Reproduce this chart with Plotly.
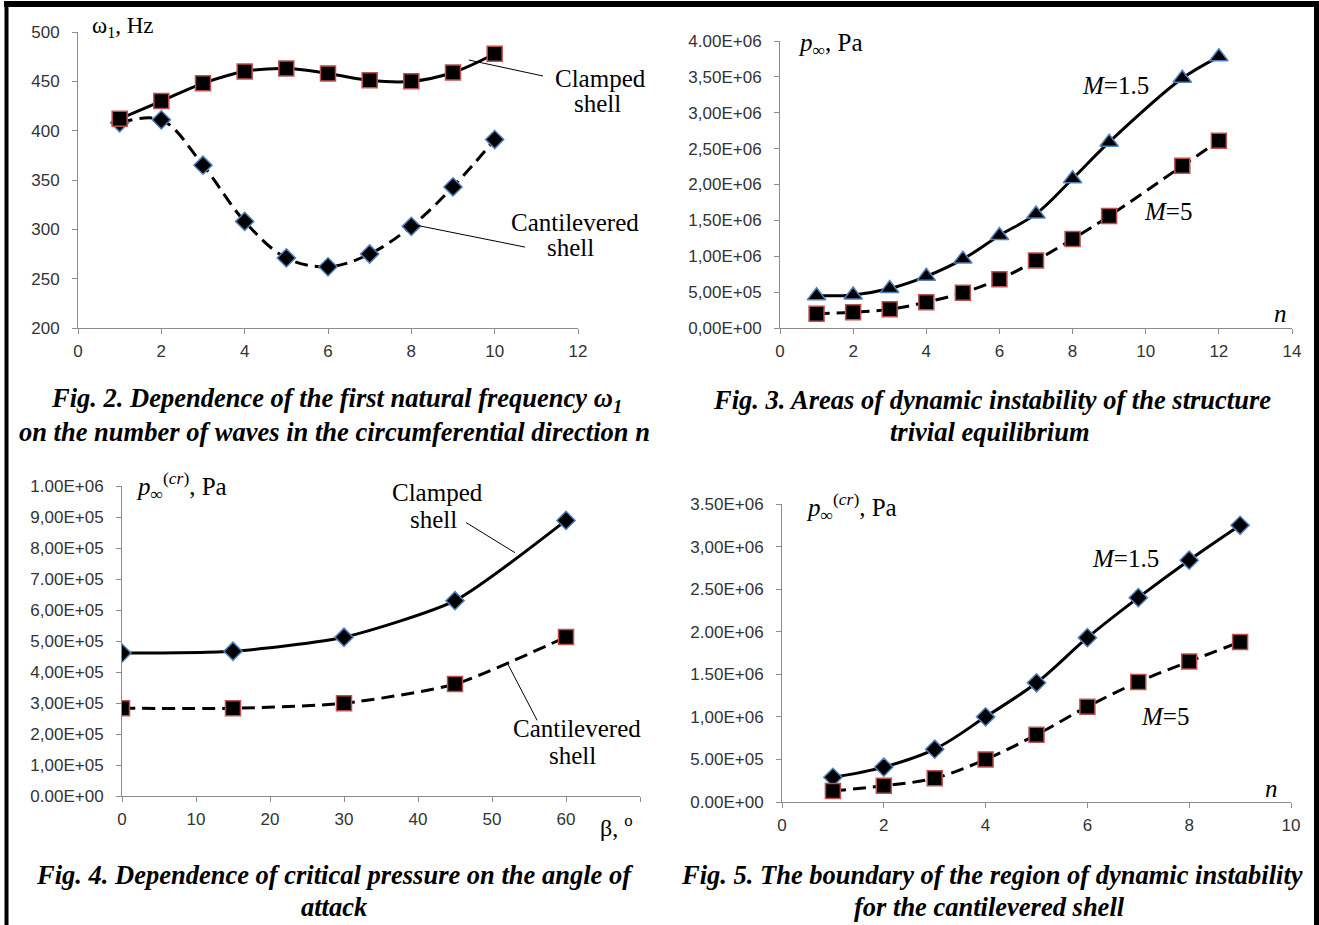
import plotly.graph_objects as go

W, H = 1319, 925

# ---------------- data ----------------
# Fig. 2
n_fig2 = [1, 2, 3, 4, 5, 6, 7, 8, 9, 10]
freq_clamped = [412, 430, 448, 460, 463, 458, 451, 450, 459, 478]
freq_cantilevered = [408, 411, 365, 308, 271, 262, 275, 303, 343, 391]

# Fig. 3
n_fig3 = [1, 2, 3, 4, 5, 6, 7, 8, 9, 11, 12]
p_m15_fig3 = [4.5e5, 4.6e5, 5.5e5, 7.2e5, 9.6e5, 1.29e6, 1.59e6, 2.08e6, 2.59e6, 3.48e6, 3.78e6]
p_m5_fig3 = [2.0e5, 2.2e5, 2.6e5, 3.6e5, 4.9e5, 6.8e5, 9.4e5, 1.24e6, 1.56e6, 2.26e6, 2.61e6]

# Fig. 4
beta_fig4 = [0, 15, 30, 45, 60]
p_clamped_fig4 = [4.61e5, 4.67e5, 5.12e5, 6.3e5, 8.89e5]
p_cantilevered_fig4 = [2.83e5, 2.83e5, 2.99e5, 3.61e5, 5.13e5]

# Fig. 5
n_fig5 = [1, 2, 3, 4, 5, 6, 7, 8, 9]
p_m15_fig5 = [2.9e5, 4.1e5, 6.2e5, 1.0e6, 1.4e6, 1.93e6, 2.4e6, 2.84e6, 3.25e6]
p_m5_fig5 = [1.3e5, 1.9e5, 2.8e5, 5.0e5, 7.9e5, 1.12e6, 1.41e6, 1.65e6, 1.88e6]

# tick labels
yt_fig2 = [200, 250, 300, 350, 400, 450, 500]
xt_fig2 = [0, 2, 4, 6, 8, 10, 12]
yt_fig3_vals = [0, 5e5, 1e6, 1.5e6, 2e6, 2.5e6, 3e6, 3.5e6, 4e6]
yt_fig3_text = ["0,00E+00", "5,00E+05", "1,00E+06", "1,50E+06", "2,00E+06",
                "2,50E+06", "3,00E+06", "3,50E+06", "4.00E+06"]
xt_fig3 = [0, 2, 4, 6, 8, 10, 12, 14]
yt_fig4_vals = [0, 1e5, 2e5, 3e5, 4e5, 5e5, 6e5, 7e5, 8e5, 9e5, 1e6]
yt_fig4_text = ["0.00E+00", "1,00E+05", "2,00E+05", "3,00E+05", "4,00E+05", "5,00E+05",
                "6,00E+05", "7.00E+05", "8,00E+05", "9,00E+05", "1.00E+06"]
xt_fig4_vals = [0, 10, 20, 30, 40, 50, 60, 70]
xt_fig4_text = ["0", "10", "20", "30", "40", "50", "60", ""]
yt_fig5_vals = [0, 5e5, 1e6, 1.5e6, 2e6, 2.5e6, 3e6, 3.5e6]
yt_fig5_text = ["0.00E+00", "5.00E+05", "1,00E+06", "1.50E+06", "2.00E+06",
                "2.50E+06", "3,00E+06", "3.50E+06"]
xt_fig5 = [0, 2, 4, 6, 8, 10]

# ---------------- helpers ----------------
def px(x):
    return x / W


def py(y):
    return 1 - y / H


BLUE = "#4f81bd"
RED = "#c0504d"
DASH = "13px,7px"
SERIF = "Liberation Serif"
SANS = "Liberation Sans"

fig = go.Figure()


def sq_marker():
    return dict(symbol="square", size=15, color="black", line=dict(color=RED, width=1.5))


def dia_marker(size=14):
    return dict(symbol="diamond", size=size, color="black", line=dict(color=BLUE, width=1.5))


def tri_marker():
    return dict(symbol="triangle-up", size=16, color="black", line=dict(color=BLUE, width=1.5))


# Fig 2
fig.add_trace(go.Scatter(x=n_fig2, y=freq_cantilevered, mode="lines+markers",
                         line=dict(color="black", width=3, dash=DASH, shape="spline"),
                         marker=dia_marker(), xaxis="x", yaxis="y"))
fig.add_trace(go.Scatter(x=n_fig2, y=freq_clamped, mode="lines+markers",
                         line=dict(color="black", width=3, shape="spline"),
                         marker=sq_marker(), xaxis="x", yaxis="y"))
# Fig 3
fig.add_trace(go.Scatter(x=n_fig3, y=p_m15_fig3, mode="lines+markers",
                         line=dict(color="black", width=3, shape="spline"),
                         marker=tri_marker(), xaxis="x2", yaxis="y2"))
fig.add_trace(go.Scatter(x=n_fig3, y=p_m5_fig3, mode="lines+markers",
                         line=dict(color="black", width=3, dash=DASH, shape="spline"),
                         marker=sq_marker(), xaxis="x2", yaxis="y2"))
# Fig 4
fig.add_trace(go.Scatter(x=beta_fig4, y=p_clamped_fig4, mode="lines+markers",
                         line=dict(color="black", width=3, shape="spline", smoothing=0.6),
                         marker=dia_marker(), xaxis="x3", yaxis="y3"))
fig.add_trace(go.Scatter(x=beta_fig4, y=p_cantilevered_fig4, mode="lines+markers",
                         line=dict(color="black", width=3, dash=DASH, shape="spline", smoothing=0.6),
                         marker=sq_marker(), xaxis="x3", yaxis="y3"))
# Fig 5
fig.add_trace(go.Scatter(x=n_fig5, y=p_m15_fig5, mode="lines+markers",
                         line=dict(color="black", width=3, shape="spline"),
                         marker=dia_marker(), xaxis="x4", yaxis="y4"))
fig.add_trace(go.Scatter(x=n_fig5, y=p_m5_fig5, mode="lines+markers",
                         line=dict(color="black", width=3, dash=DASH, shape="spline"),
                         marker=sq_marker(), xaxis="x4", yaxis="y4"))

AXCOL = "#8c8c8c"
TICKFONT = dict(family=SANS, size=17, color="#333333")


def xax(domain, rng, tickvals, ticktext, anchor):
    return dict(domain=domain, range=rng, tickvals=tickvals, ticktext=ticktext,
                showline=True, linecolor=AXCOL, linewidth=1, ticks="outside", ticklen=5,
                tickcolor=AXCOL, showgrid=False, zeroline=False, tickfont=TICKFONT,
                anchor=anchor, fixedrange=True, ticklabelstandoff=3, automargin=False)


def yax(domain, rng, tickvals, ticktext, anchor):
    return dict(domain=domain, range=rng, tickvals=tickvals, ticktext=ticktext,
                showline=True, linecolor=AXCOL, linewidth=1, ticks="outside", ticklen=5,
                tickcolor=AXCOL, showgrid=False, zeroline=False, tickfont=TICKFONT,
                anchor=anchor, fixedrange=True, ticklabelstandoff=9, automargin=False)


fig.update_layout(
    template="none",
    width=W, height=H, margin=dict(l=0, r=0, t=0, b=0, autoexpand=False),
    paper_bgcolor="white", plot_bgcolor="white", showlegend=False,
    xaxis=xax([px(78), px(578)], [0, 12], xt_fig2, [str(v) for v in xt_fig2], "y"),
    yaxis=yax([py(328), py(32)], [200, 500], yt_fig2, [str(v) for v in yt_fig2], "x"),
    xaxis2=xax([px(780), px(1292)], [0, 14], xt_fig3, [str(v) for v in xt_fig3], "y2"),
    yaxis2=yax([py(328), py(41)], [0, 4e6], yt_fig3_vals, yt_fig3_text, "x2"),
    xaxis3=xax([px(122), px(640)], [0, 70], xt_fig4_vals, xt_fig4_text, "y3"),
    yaxis3=yax([py(796), py(486)], [0, 1e6], yt_fig4_vals, yt_fig4_text, "x3"),
    xaxis4=xax([px(782), px(1291)], [0, 10], xt_fig5, [str(v) for v in xt_fig5], "y4"),
    yaxis4=yax([py(802), py(504)], [0, 3.5e6], yt_fig5_vals, yt_fig5_text, "x4"),
)

ann = []


def txt(x, y, text, size=21, xanchor="center", italic=False, bold=False):
    t = text
    if italic:
        t = "<i>" + t + "</i>"
    if bold:
        t = "<b>" + t + "</b>"
    ann.append(dict(x=px(x), y=py(y), xref="paper", yref="paper", text=t, showarrow=False,
                    xanchor=xanchor, yanchor="middle",
                    font=dict(family=SERIF, size=size, color="black")))


shapes = []


def leader(xr, yr, x0, y0, x1, y1):
    shapes.append(dict(type="line", xref=xr, yref=yr, x0=x0, y0=y0, x1=x1, y1=y1,
                       line=dict(color="black", width=1)))


LBL = 25
# Fig 2 labels
txt(90, 27, "ω<sub>1</sub>, Hz", size=23, xanchor="left")
txt(600, 78, "Clamped", LBL)
txt(597, 104, "shell", LBL)
txt(575, 222, "Cantilevered", LBL)
txt(570, 248, "shell", LBL)
leader("x", "y", 11.16, 455.4, 9.38, 471.6)
leader("x", "y", 10.73, 282, 8.14, 304)

# Fig 3 labels
txt(796, 45, "<i>p</i><sub>∞</sub>, Pa", size=LBL, xanchor="left")
txt(1115, 86, "<i>M</i>=1.5", size=LBL)
txt(1168, 211, "<i>M</i>=5", size=LBL)
txt(1280, 313, "<i>n</i>", size=LBL)

# Fig 4 labels
txt(134, 486, "<i>p</i><sub>∞</sub><sup>(<i>cr</i>)</sup>, Pa", size=LBL, xanchor="left")
txt(437, 492, "Clamped", LBL)
txt(433, 519, "shell", LBL)
txt(577, 728, "Cantilevered", LBL)
txt(572, 755, "shell", LBL)
txt(598, 826, "β, <sup>o</sup>", size=24, xanchor="left")
leader("x3", "y3", 46.5, 8.82e5, 53.1, 7.85e5)
leader("x3", "y3", 56.1, 2.44e5, 52.0, 4.32e5)

# Fig 5 labels
txt(804, 507, "<i>p</i><sub>∞</sub><sup>(<i>cr</i>)</sup>, Pa", size=LBL, xanchor="left")
txt(1125, 558, "<i>M</i>=1.5", size=LBL)
txt(1165, 716, "<i>M</i>=5", size=LBL)
txt(1271, 788, "<i>n</i>", size=LBL)

# Captions
CAP = 26.5
txt(336, 400, "Fig. 2. Dependence of the first natural frequency ω<sub>1</sub>", CAP, italic=True, bold=True)
txt(334, 432, "on the number of waves in the circumferential direction n", CAP, italic=True, bold=True)
txt(992, 400, "Fig. 3. Areas of dynamic instability of the structure", CAP, italic=True, bold=True)
txt(990, 432, "trivial equilibrium", CAP, italic=True, bold=True)
txt(335, 875, "Fig. 4. Dependence of critical pressure on the angle of", CAP, italic=True, bold=True)
txt(334, 907, "attack", CAP, italic=True, bold=True)
txt(992, 875, "Fig. 5. The boundary of the region of dynamic instability", CAP, italic=True, bold=True)
txt(990, 907, "for the cantilevered shell", CAP, italic=True, bold=True)

fig.update_layout(annotations=ann)

# frame border
shapes += [
    dict(type="rect", xref="paper", yref="paper", x0=px(4), x1=px(1319), y0=py(7), y1=py(1),
         fillcolor="black", line=dict(width=0)),
    dict(type="rect", xref="paper", yref="paper", x0=px(4.5), x1=px(8.5), y0=py(925), y1=py(1),
         fillcolor="black", line=dict(width=0)),
    dict(type="rect", xref="paper", yref="paper", x0=px(1314), x1=px(1319), y0=py(925), y1=py(1),
         fillcolor="black", line=dict(width=0)),
]
fig.update_layout(shapes=shapes)

fig.write_html(
    "out.html",
    config={"displayModeBar": False, "responsive": False},
    post_script=(
        "document.body.style.margin='0';document.body.style.padding='0';"
        "document.body.style.overflow='hidden';"
    ),
)
